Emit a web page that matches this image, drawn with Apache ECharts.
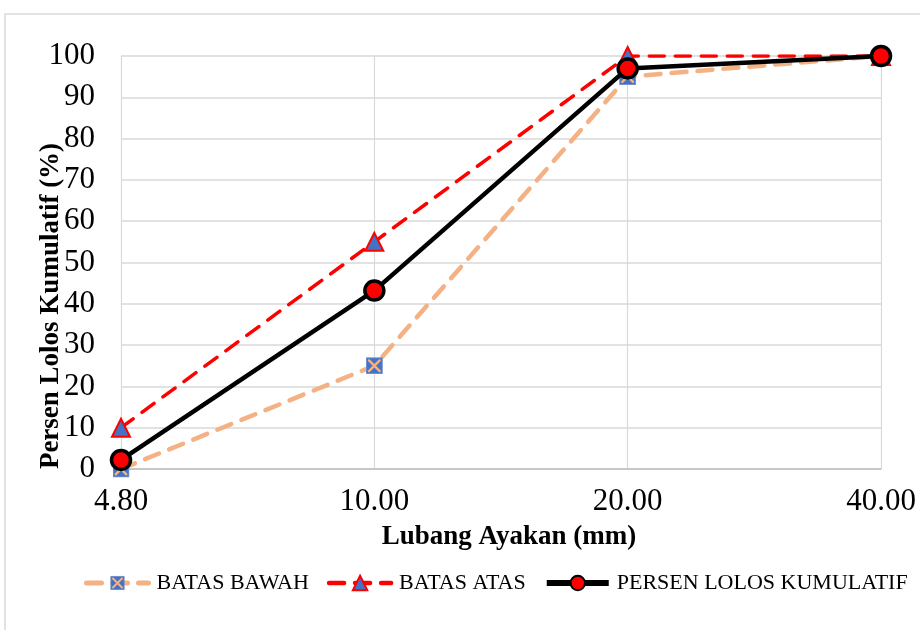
<!DOCTYPE html>
<html>
<head>
<meta charset="utf-8">
<script src="https://cdn.jsdelivr.net/npm/echarts@6/dist/echarts.min.js"></script>
<style>
  html, body { margin: 0; padding: 0; background: #ffffff; }
  #chart { width: 920px; height: 630px; }
</style>
</head>
<body>
<div id="chart"></div>
<script>
// Sieve sizes (mm) and cumulative passing percentages
const sieveSizes = ['4.80', '10.00', '20.00', '40.00'];
const batasBawah = [0, 25, 95, 100];
const batasAtas = [10, 55, 100, 100];
const persenLolos = [2.2, 43.2, 97, 100];
const yTicks = { min: 0, max: 100, interval: 10 };

const serif = '"Liberation Serif", "DejaVu Serif", serif';

// Blue square marker crossed by an orange X
const squareX = 'image://data:image/svg+xml;utf8,' + encodeURIComponent(
  '<svg xmlns="http://www.w3.org/2000/svg" width="32" height="32" viewBox="0 0 32 32">' +
  '<rect x="1" y="1" width="30" height="30" fill="#4472c4" stroke="#6f8fd0" stroke-width="2"/>' +
  '<path d="M6 6 L26 26 M26 6 L6 26" stroke="#f4b183" stroke-width="4.5" stroke-linecap="round"/>' +
  '</svg>');

const chart = echarts.init(document.getElementById('chart'), null, { renderer: 'canvas' });

chart.setOption({
  backgroundColor: '#ffffff',
  animation: false,
  textStyle: { fontFamily: serif },
  graphic: [
    {
      type: 'rect',
      shape: { x: 5, y: 14, width: 1000, height: 1000 },
      style: { fill: 'none', stroke: '#d9d9d9', lineWidth: 1.5 },
      silent: true
    },
    {
      type: 'text',
      x: 51,
      y: 306,
      rotation: Math.PI / 2,
      style: {
        text: 'Persen Lolos Kumulatif (%)',
        font: 'bold 27px ' + serif,
        fill: '#000000',
        align: 'center',
        verticalAlign: 'middle'
      }
    }
  ],
  grid: { left: 121, right: 39, top: 56, bottom: 161, containLabel: false },
  legend: {
    left: 79,
    top: 567,
    width: 880,
    itemWidth: 62,
    itemHeight: 18,
    itemGap: 18,
    textStyle: { fontFamily: serif, fontSize: 22, color: '#000000', padding: [0, 0, 0, 3] },
    data: [
      { name: 'BATAS BAWAH', lineStyle: { width: 5 } },
      { name: 'BATAS ATAS', lineStyle: { width: 4.5 } },
      { name: 'PERSEN LOLOS KUMULATIF', lineStyle: { width: 6 } }
    ]
  },
  xAxis: {
    type: 'category',
    data: sieveSizes,
    boundaryGap: false,
    name: 'Lubang Ayakan (mm)',
    nameLocation: 'middle',
    nameGap: 55,
    nameTextStyle: { fontFamily: serif, fontSize: 27, fontWeight: 'bold', color: '#000000', padding: [0, 0, 0, 16] },
    axisLine: { lineStyle: { color: '#bfbfbf', width: 1.5 } },
    axisTick: { show: false },
    axisLabel: { fontFamily: serif, fontSize: 31, color: '#000000', margin: 17 },
    splitLine: { show: true, lineStyle: { color: '#d9d9d9', width: 1.2 } }
  },
  yAxis: {
    type: 'value',
    min: yTicks.min,
    max: yTicks.max,
    interval: yTicks.interval,
    axisLine: { show: false },
    axisTick: { show: false },
    axisLabel: { fontFamily: serif, fontSize: 31, color: '#000000', margin: 26 },
    splitLine: { show: true, lineStyle: { color: '#d9d9d9', width: 1.5 } }
  },
  series: [
    {
      name: 'BATAS BAWAH',
      type: 'line',
      data: batasBawah,
      symbol: squareX,
      symbolSize: 17,
      lineStyle: { color: '#f4b183', width: 4.5, type: [15, 11], cap: 'round' },
      itemStyle: { color: '#f4b183' },
      z: 2
    },
    {
      name: 'BATAS ATAS',
      type: 'line',
      data: batasAtas,
      symbol: 'triangle',
      symbolSize: 18,
      lineStyle: { color: '#ff0000', width: 3.5, type: [15, 11], cap: 'round' },
      itemStyle: { color: '#4472c4', borderColor: '#ff0000', borderWidth: 2 },
      z: 3
    },
    {
      name: 'PERSEN LOLOS KUMULATIF',
      type: 'line',
      data: persenLolos,
      symbol: 'circle',
      symbolSize: 19,
      lineStyle: { color: '#000000', width: 4.5 },
      itemStyle: { color: '#ff0000', borderColor: '#000000', borderWidth: 3.5 },
      z: 4
    }
  ]
});
</script>
</body>
</html>
